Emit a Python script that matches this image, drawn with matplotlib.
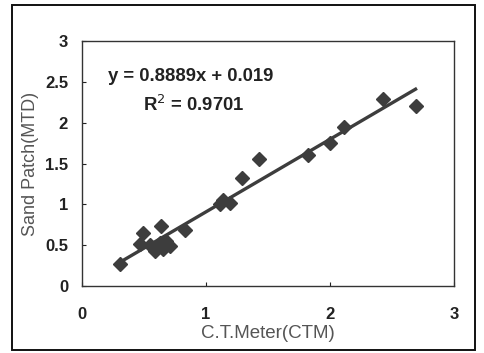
"""Sand patch vs CT meter correlation chart."""

import numpy as np
import matplotlib
matplotlib.use("Agg")
import matplotlib.pyplot as plt
from matplotlib.patches import Rectangle

# data
ctm = [0.31, 0.49, 0.47, 0.55, 0.59, 0.63, 0.64, 0.65, 0.68, 0.71, 0.83,
       1.11, 1.14, 1.19, 1.29, 1.43, 1.82, 2.00, 2.11, 2.43, 2.69]
mtd = [0.27, 0.65, 0.52, 0.50, 0.43, 0.53, 0.74, 0.45, 0.55, 0.49, 0.69,
       1.00, 1.05, 1.02, 1.32, 1.55, 1.61, 1.75, 1.95, 2.29, 2.21]
slope = 0.8889
intercept = 0.019
r2 = 0.9701

x_ticks = [0, 1, 2, 3]
y_ticks = [0, 0.5, 1, 1.5, 2, 2.5, 3]
y_tick_labels = ["0", "0.5", "1", "1.5", "2", "2.5", "3"]

dark = "#3d3d3d"
plt.rcParams["font.family"] = ["Liberation Sans", "DejaVu Sans"]

fig = plt.figure(figsize=(4.84, 3.53), dpi=100)
fig.patches.append(Rectangle((12 / 484, 3 / 353), 463 / 484, 345 / 353,
                             transform=fig.transFigure, fill=False,
                             edgecolor="#111111", linewidth=1.4))

ax = fig.add_axes([82 / 484, 67 / 353, 372 / 484, 245 / 353])

x_fit = np.array([min(ctm), max(ctm)])
ax.plot(x_fit, slope * x_fit + intercept, color=dark, linewidth=2.4, zorder=2)
ax.plot(ctm, mtd, linestyle="none", marker="D", markersize=7.5,
        color=dark, zorder=3)

ax.set_xlim(0, 3)
ax.set_ylim(0, 3)
ax.set_xticks(x_ticks)
ax.set_yticks(y_ticks)
ax.set_yticklabels(y_tick_labels)
ax.tick_params(direction="in", length=3, width=0.8, labelsize=12,
               colors="#222222")
ax.tick_params(axis="x", pad=15)
ax.tick_params(axis="y", pad=10)
for label in ax.get_xticklabels() + ax.get_yticklabels():
    label.set_fontweight("bold")
for spine in ax.spines.values():
    spine.set_color("#333333")
    spine.set_linewidth(1.0)

ax.set_xlabel("C.T.Meter(CTM)", fontsize=13.5, color="#555555", labelpad=2)
ax.set_ylabel("Sand Patch(MTD)", fontsize=13, color="#555555", labelpad=4)

ax.text(0.07, 0.855, f"y = {slope}x + {intercept}", transform=ax.transAxes,
        fontsize=13.3, fontweight="bold", color="#222222", va="center")
ax.text(0.165, 0.74, f"R$^2$ = {r2}", transform=ax.transAxes,
        fontsize=13.3, fontweight="bold", color="#222222", va="center")

fig.savefig("out.png", dpi=100)
